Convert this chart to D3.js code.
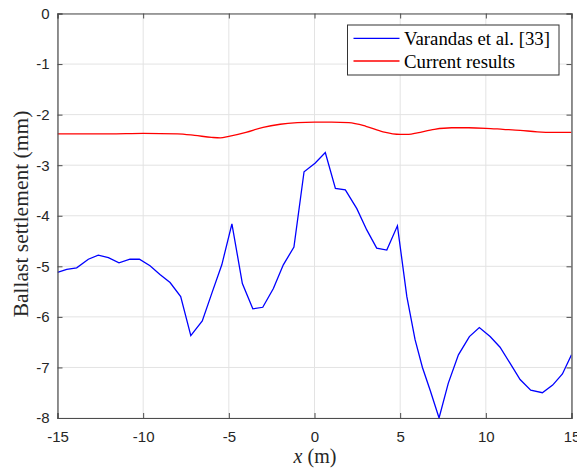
<!DOCTYPE html>
<html><head><meta charset="utf-8">
<script src="https://cdn.jsdelivr.net/npm/d3@7"></script>
<style>body{margin:0;background:#fff}svg{display:block}</style>
</head><body>
<script>
const xTicks = [-15,-10,-5,0,5,10,15];
const yTicks = [0,-1,-2,-3,-4,-5,-6,-7,-8];
const varandasX = [-15,-14.46,-13.88,-13.2,-12.62,-12.03,-11.41,-10.77,-10.22,-9.6,-9.02,-8.43,-7.81,-7.22,-6.55,-5.98,-5.41,-4.82,-4.21,-3.6,-3.02,-2.4,-1.82,-1.2,-0.61,0.03,0.63,1.22,1.8,2.47,3.05,3.63,4.22,4.84,5.39,5.87,6.3,6.75,7.27,7.81,8.4,9.04,9.62,10.25,10.83,11.42,12.0,12.62,13.3,13.9,14.47,15];
const varandasY = [-5.12,-5.06,-5.03,-4.86,-4.78,-4.83,-4.93,-4.86,-4.86,-4.99,-5.16,-5.32,-5.6,-6.37,-6.08,-5.52,-4.97,-4.16,-5.34,-5.84,-5.81,-5.44,-4.97,-4.62,-3.13,-2.96,-2.75,-3.46,-3.49,-3.86,-4.28,-4.64,-4.68,-4.2,-5.6,-6.45,-7.0,-7.45,-8.0,-7.31,-6.75,-6.39,-6.21,-6.39,-6.6,-6.92,-7.24,-7.45,-7.5,-7.35,-7.13,-6.75];
const currentX = [-15,-12,-10,-8,-7,-6,-5.5,-5,-4,-3,-2,-1,0,1,2,3,4,5,5.5,6,7,8,9,10,11,12,13,14,15];
const currentY = [-2.38,-2.38,-2.37,-2.38,-2.41,-2.45,-2.46,-2.43,-2.35,-2.25,-2.19,-2.16,-2.15,-2.15,-2.16,-2.23,-2.34,-2.39,-2.39,-2.36,-2.29,-2.26,-2.26,-2.27,-2.29,-2.31,-2.34,-2.35,-2.35];
const seriesNames = ["Varandas et al. [33]","Current results"];

const W=577,H=472;
const L=57.5,R=571.5,T=13.5,B=418;
const svg=d3.select("body").append("svg").attr("width",W).attr("height",H);
const x=d3.scaleLinear().domain([-15,15]).range([L,R]);
const y=d3.scaleLinear().domain([-8,0]).range([B,T]);

// grid
const g=svg.append("g");
g.selectAll(".vg").data(xTicks).join("line")
 .attr("x1",d=>x(d)).attr("x2",d=>x(d)).attr("y1",T).attr("y2",B)
 .attr("stroke","#e3e3e3").attr("stroke-width",1);
g.selectAll(".hg").data(yTicks).join("line")
 .attr("y1",d=>y(d)).attr("y2",d=>y(d)).attr("x1",L).attr("x2",R)
 .attr("stroke","#e3e3e3").attr("stroke-width",1);

// lines
svg.append("clipPath").attr("id","c").append("rect").attr("x",L).attr("y",T-1).attr("width",R-L).attr("height",B-T+2);
const vData=varandasX.map((d,i)=>[d,varandasY[i]]);
const cData=currentX.map((d,i)=>[d,currentY[i]]);
svg.append("path").datum(cData).attr("clip-path","url(#c)")
 .attr("d",d3.line().x(d=>x(d[0])).y(d=>y(d[1])).curve(d3.curveMonotoneX))
 .attr("fill","none").attr("stroke","#ff0000").attr("stroke-width",1.3);
svg.append("path").datum(vData).attr("clip-path","url(#c)")
 .attr("d",d3.line().x(d=>x(d[0])).y(d=>y(d[1])))
 .attr("fill","none").attr("stroke","#0000ff").attr("stroke-width",1.3);

// axes
const axCol="#4d4d4d";
const fmt=d=>String(d);
const xa=svg.append("g").attr("transform",`translate(0,${B})`)
 .call(d3.axisBottom(x).tickValues(xTicks).tickSize(-5).tickPadding(13).tickFormat(fmt));
const xt=svg.append("g").attr("transform",`translate(0,${T})`)
 .call(d3.axisTop(x).tickValues(xTicks).tickSize(-5).tickFormat(""));
const ya=svg.append("g").attr("transform",`translate(${L},0)`)
 .call(d3.axisLeft(y).tickValues(yTicks).tickSize(-5).tickPadding(8).tickFormat(fmt));
const yr=svg.append("g").attr("transform",`translate(${R},0)`)
 .call(d3.axisRight(y).tickValues(yTicks).tickSize(-5).tickFormat(""));
[xa,xt,ya,yr].forEach(a=>{
  a.select(".domain").attr("stroke",axCol).attr("stroke-width",1.2);
  a.selectAll(".tick line").attr("stroke",axCol);
  a.selectAll("text").attr("fill","#262626").style("font-family","Arial, 'Liberation Sans', sans-serif").style("font-size","15px");
});
xa.selectAll("text").attr("dy","0.71em");

// axis labels
svg.append("text").attr("x",315).attr("y",463).attr("text-anchor","middle")
 .style("font-family","'Times New Roman','Liberation Serif',serif").style("font-size","20px").attr("fill","#262626")
 .html('<tspan font-style="italic">x</tspan> (m)');
svg.append("text").attr("transform",`translate(28,214) rotate(-90)`).attr("text-anchor","middle")
 .style("font-family","'Times New Roman','Liberation Serif',serif").style("font-size","21.5px").attr("fill","#262626")
 .text("Ballast settlement (mm)");

// legend
const lg=svg.append("g");
lg.append("rect").attr("x",347.5).attr("y",25).attr("width",211.5).attr("height",50)
 .attr("fill","#fff").attr("stroke","#333").attr("stroke-width",1);
const cols=["#0000ff","#ff0000"];
seriesNames.forEach((n,i)=>{
  const yy=38.3+i*22.7;
  lg.append("line").attr("x1",353.5).attr("x2",399.5).attr("y1",yy).attr("y2",yy).attr("stroke",cols[i]).attr("stroke-width",1.3);
  lg.append("text").attr("x",404).attr("y",yy).attr("dy","0.35em")
   .style("font-family","'Times New Roman','Liberation Serif',serif").style("font-size","18.8px").attr("fill","#000").text(n);
});
</script>
</body></html>
